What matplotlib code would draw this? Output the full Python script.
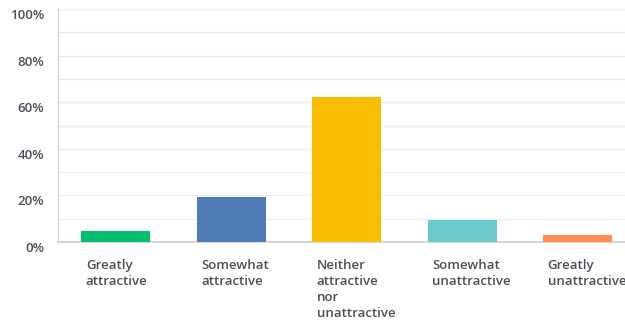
import numpy as np
import matplotlib.pyplot as plt
from matplotlib.ticker import MultipleLocator

categories = ['Greatly\nattractive', 'Somewhat\nattractive', 'Neither\nattractive\nnor\nunattractive',
              'Somewhat\nunattractive', 'Greatly\nunattractive']
values = [4.7, 19.2, 62.1, 9.6, 3.1]
colors = ['#00bf6f', '#507cb6', '#f9be00', '#6bc8cd', '#ff8b4f']
ytick_vals = [0, 20, 40, 60, 80, 100]
ytick_labels = ['0%', '20%', '40%', '60%', '80%', '100%']

plt.rcParams['font.family'] = ['Open Sans', 'DejaVu Sans']

fig = plt.figure(figsize=(6.25, 3.21), dpi=100)
ax = fig.add_axes([0.093, 0.246, 0.907, 0.726])

x = np.arange(len(values))
ax.bar(x, values, width=0.6, color=colors, zorder=3)

ax.set_xlim(-0.5, 4.41)
ax.set_ylim(0, 100)
ax.yaxis.set_minor_locator(MultipleLocator(10))
ax.set_yticks(ytick_vals)
ax.set_yticklabels(ytick_labels)
ax.grid(axis='y', which='both', color='#ececec', linewidth=1, zorder=0)

for lab in ax.get_yticklabels():
    lab.set_verticalalignment('top')
ax.tick_params(axis='y', which='both', length=0, pad=10, labelsize=9.5, labelcolor='#4b5058')

ax.set_xticks(x - 0.26)
ax.set_xticklabels(categories, ha='left', linespacing=1.3)
ax.tick_params(axis='x', length=0, pad=12, labelsize=9.5, labelcolor='#4b5058')
for lab in ax.get_xticklabels() + ax.get_yticklabels():
    lab.set_fontweight('semibold')

for s in ['top', 'right']:
    ax.spines[s].set_visible(False)
ax.spines['left'].set_color('#cfcfcf')
ax.spines['bottom'].set_color('#cfcfcf')
ax.spines['bottom'].set_linewidth(1.2)

fig.savefig('out.png', dpi=100)
